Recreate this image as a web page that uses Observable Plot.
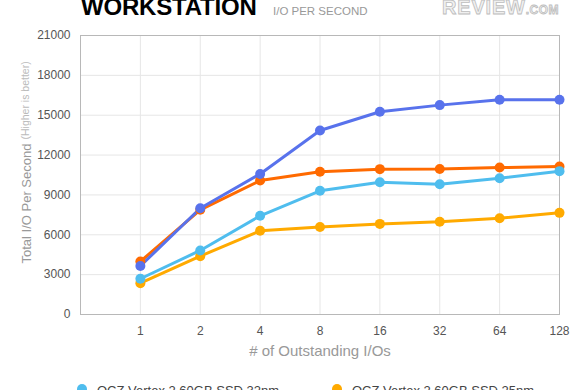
<!DOCTYPE html>
<html>
<head>
<meta charset="utf-8">
<script src="https://cdn.jsdelivr.net/npm/d3@7"></script>
<script src="https://cdn.jsdelivr.net/npm/@observablehq/plot@0.6"></script>
<style>
  html, body { margin: 0; padding: 0; background: #fff; width: 580px; height: 390px; overflow: hidden; font-family: "Liberation Sans", Arial, Helvetica, sans-serif; }
  #header { position: relative; height: 20px; }
  #title { position: absolute; left: 81px; top: -5px; font-size: 24px; line-height: 24px; font-weight: bold; color: #000; letter-spacing: -0.2px; }
  #subtitle { position: absolute; left: 273px; top: 5px; font-size: 11.5px; line-height: 12px; color: #999; }
  #logo { position: absolute; left: 442px; top: -2px; font-size: 20px; line-height: 19px; font-weight: bold; color: #f0f0f0; -webkit-text-stroke: 0.8px #bdbdbd; letter-spacing: 0.8px; }
  #logo small { font-size: 12px; letter-spacing: 0.5px; }
  #legend { position: relative; height: 20px; }
  .item { position: absolute; top: 13px; font-size: 13px; line-height: 16px; color: #444; white-space: nowrap; }
  .sw { position: absolute; top: 3px; width: 10px; height: 10px; border-radius: 50%; }
</style>
</head>
<body>
<div id="header">
  <span id="title">WORKSTATION</span>
  <span id="subtitle">I/O PER SECOND</span>
  <span id="logo">REVIEW<small>.COM</small></span>
</div>
<div id="chart"></div>
<div id="legend"></div>
<script>
const queueDepths = [1, 2, 4, 8, 16, 32, 64, 128];
const yTicks = [0, 3000, 6000, 9000, 12000, 15000, 18000, 21000];

const seriesNames = ["OCZ Vertex 2 60GB SSD 32nm", "OCZ Vertex 2 60GB SSD 25nm", "Series 3", "Series 4"];
const seriesColors = ["#4fbdee", "#ffaa00", "#ff6a00", "#5872ec"];

const vertex32nm = [2690, 4820, 7430, 9310, 9960, 9810, 10260, 10790];
const vertex25nm = [2360, 4390, 6300, 6580, 6820, 6980, 7250, 7650];
const series3    = [3990, 7880, 10080, 10740, 10940, 10950, 11060, 11140];
const series4    = [3650, 8000, 10580, 13850, 15260, 15760, 16160, 16160];

const seriesValues = [vertex32nm, vertex25nm, series3, series4];
// drawing order (later on top)
const drawOrder = [1, 2, 0, 3];

const rows = [];
for (const s of drawOrder) {
  queueDepths.forEach((q, i) => rows.push({series: seriesNames[s], q, v: seriesValues[s][i], color: seriesColors[s], order: s}));
}

const chart = Plot.plot({
  width: 580,
  height: 350,
  marginLeft: 80,
  marginRight: 21,
  marginTop: 15,
  marginBottom: 56,
  style: {fontFamily: "'Liberation Sans', Arial, Helvetica, sans-serif", fontSize: "12px", color: "#555", background: "#fff"},
  x: {type: "log", base: 2, domain: [0.5, 128], ticks: queueDepths, tickFormat: d => String(d)},
  y: {domain: [0, 21000], ticks: yTicks},
  marks: [
    Plot.gridY(yTicks, {stroke: "#e6e6e6", strokeOpacity: 1, strokeWidth: 1}),
    Plot.gridX(queueDepths, {stroke: "#e6e6e6", strokeOpacity: 1, strokeWidth: 1}),
    Plot.frame({stroke: "#b8b8b8", strokeWidth: 1}),
    Plot.axisY(yTicks, {tickSize: 0, tickPadding: 10, label: null, fill: "#555", fontSize: 12, tickFormat: d => String(d)}),
    Plot.axisX(queueDepths, {tickSize: 0, tickPadding: 12, label: null, fill: "#555", fontSize: 12, tickFormat: d => String(d)}),
    ...drawOrder.map(s => Plot.line(rows.filter(r => r.order === s), {x: "q", y: "v", stroke: seriesColors[s], strokeWidth: 3})),
    ...drawOrder.map(s => Plot.dot(rows.filter(r => r.order === s), {x: "q", y: "v", fill: seriesColors[s], r: 5, stroke: "none"})),
    Plot.text(["# of Outstanding I/Os"], {frameAnchor: "bottom", dy: 37, lineAnchor: "middle", fontSize: 15, fill: "#999"}),
    Plot.text(["Total I/O Per Second"], {frameAnchor: "bottom-left", dx: -54, dy: -51, rotate: -90, textAnchor: "start", lineAnchor: "middle", fontSize: 13, fill: "#999"}),
    Plot.text(["(Higher is better)"], {frameAnchor: "bottom-left", dx: -55, dy: -175, rotate: -90, textAnchor: "start", lineAnchor: "middle", fontSize: 10.5, fill: "#bbb"})
  ]
});
document.getElementById("chart").appendChild(chart);

const legend = document.getElementById("legend");
const legendX = [82, 337];
[0, 1].forEach((s, i) => {
  const sw = document.createElement("div");
  sw.className = "sw";
  sw.style.left = (legendX[i] - 5) + "px";
  sw.style.top = "14px";
  sw.style.background = seriesColors[s];
  legend.appendChild(sw);
  const it = document.createElement("div");
  it.className = "item";
  it.style.left = (legendX[i] + 15) + "px";
  it.textContent = seriesNames[s];
  legend.appendChild(it);
});
</script>
</body>
</html>
